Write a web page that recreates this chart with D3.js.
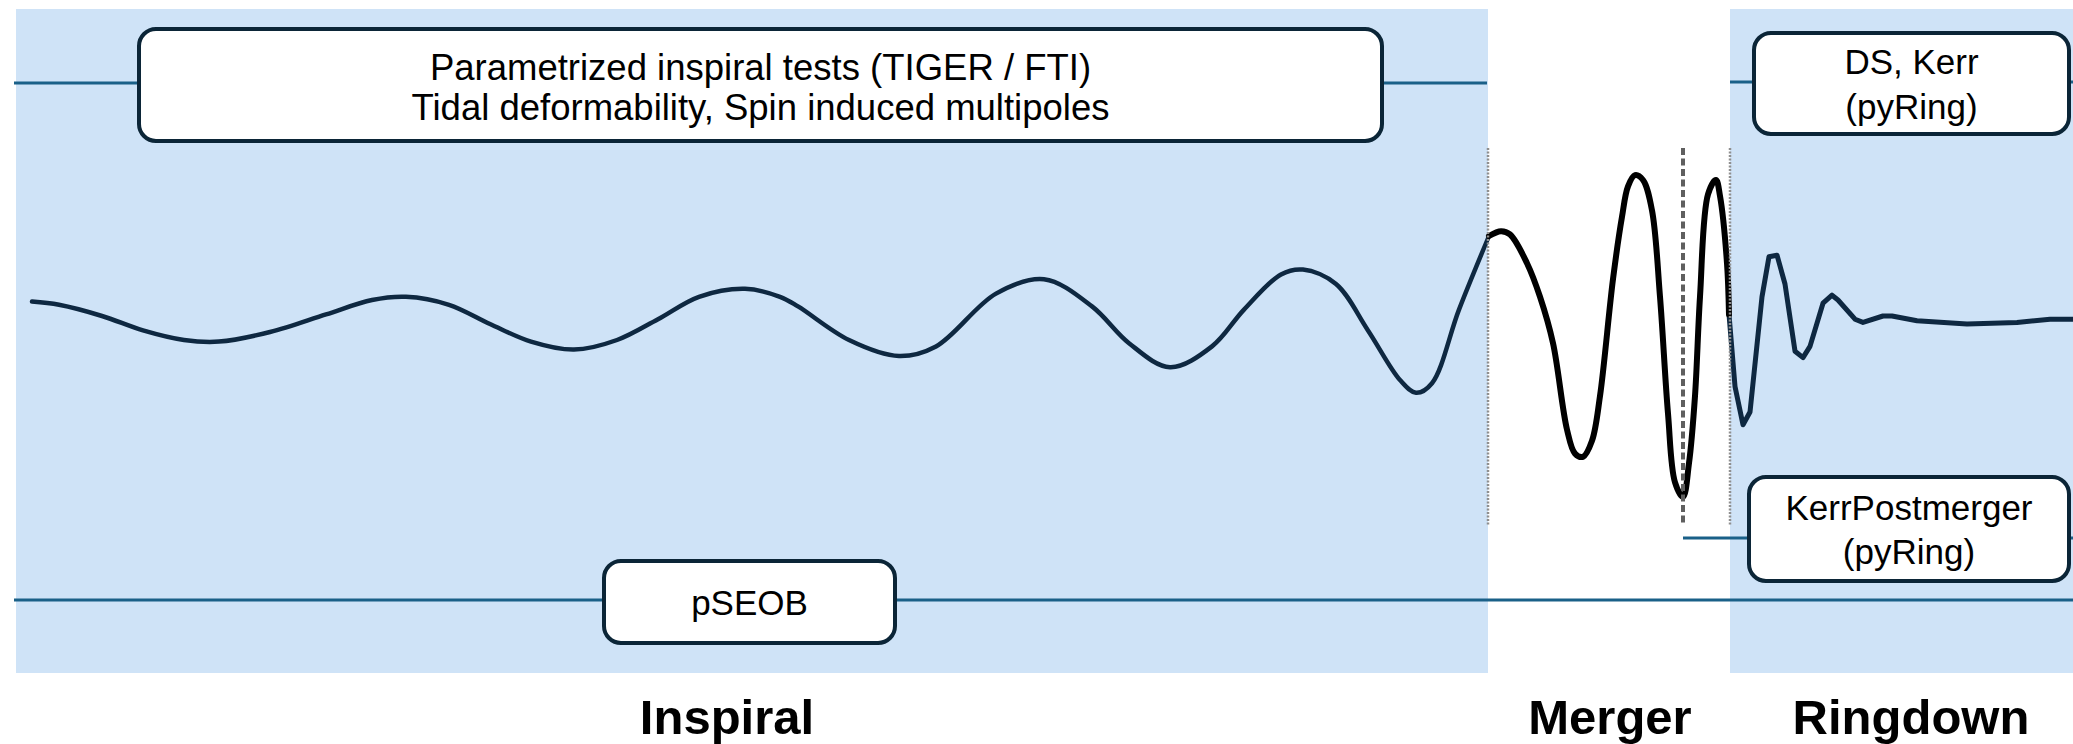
<!DOCTYPE html>
<html>
<head>
<meta charset="utf-8">
<script src="https://cdn.jsdelivr.net/npm/d3@7"></script>
<style>
	body { margin: 0; background: #fff; }
	svg { display: block; }
</style>
</head>
<body>
<svg></svg>
<script>
const width = 2073
const height = 744

// time relative to the merger peak, strain in arbitrary units
const inspiralT = [-165.1, -162.4, -158.1, -154.0, -149.9, -146.4, -141.3, -135.7, -131.1, -127.7, -123.4, -119.3, -115.2, -110.9, -106.6, -102.5, -98.4, -93.8, -90.3, -88.5, -83.4, -78.4, -74.7, -68.7, -63.9, -59.1, -55.4, -51.3, -47.1, -43.9, -40.2, -38.0, -34.7, -31.5, -28.3, -26.7, -25.1, -22.4, -19.4]
const inspiralH = [0.24, 0.22, 0.15, 0.06, 0.00, -0.01, 0.05, 0.16, 0.25, 0.27, 0.22, 0.10, -0.01, -0.06, 0.00, 0.13, 0.27, 0.32, 0.27, 0.21, 0.00, -0.10, -0.04, 0.29, 0.38, 0.21, -0.02, -0.17, -0.04, 0.19, 0.41, 0.44, 0.35, 0.06, -0.25, -0.33, -0.27, 0.19, 0.65]

const mergerT = [-19.4, -18.2, -17.3, -15.6, -14.3, -13.0, -11.6, -10.8, -10.0, -9.1, -8.3, -7.0, -6.1, -5.5, -4.8, -4.0, -3.1, -2.3, -1.5, -0.8, 0.0, 0.6, 1.2, 1.7, 2.5, 3.3, 3.7, 4.4, 4.6]
const mergerH = [0.65, 0.68, 0.66, 0.48, 0.27, -0.02, -0.56, -0.71, -0.73, -0.63, -0.35, 0.38, 0.77, 0.96, 1.03, 1.00, 0.81, 0.27, -0.46, -0.89, -0.98, -0.77, -0.35, 0.27, 0.91, 1.00, 0.90, 0.48, 0.16]

const ringdownT = [4.6, 5.2, 6.0, 6.7, 7.9, 8.6, 9.4, 10.2, 11.2, 12.0, 12.7, 14.0, 14.9, 15.5, 17.2, 18.0, 20.0, 20.9, 23.4, 28.4, 33.4, 36.7, 39.0]
const ringdownH = [0.16, -0.29, -0.53, -0.45, 0.27, 0.52, 0.53, 0.35, -0.07, -0.11, -0.04, 0.23, 0.28, 0.25, 0.13, 0.11, 0.15, 0.15, 0.12, 0.10, 0.11, 0.13, 0.13]

// phases of the coalescence
const phaseNames = ['Inspiral', 'Merger', 'Ringdown']
const phaseStart = [-166.7, -19.5, 4.7]
const phaseEnd = [-19.5, 4.7, 39]
const phaseLabelT = [-95.6, -7.3, 22.8]
const phaseShaded = [true, false, true]

// tests and the span of the signal they use
const testLabels = [
	['Parametrized inspiral tests (TIGER / FTI)', 'Tidal deformability, Spin induced multipoles'],
	['DS, Kerr', '(pyRing)'],
	['KerrPostmerger', '(pyRing)'],
	['pSEOB']
]
const testFrom = [-166.9, 4.7, 0, -166.9]
const testTo = [-19.6, 39, 39, 39]

const peakT = 0

// layout of the test boxes (time units for x, pixels for y)
const boxLayout = [
	{ t0: -154.4, t1: -30.1, y: 29, h: 112, line: 83, gap: 40, dy: 2, size: 36.5 },
	{ t0: 7.1, t1: 38.6, y: 33, h: 101, line: 82, gap: 45, dy: 0, size: 35 },
	{ t0: 6.6, t1: 38.6, y: 477, h: 104, line: 538, gap: 44, dy: 0, size: 35 },
	{ t0: -107.9, t1: -78.8, y: 561, h: 82, line: 600, gap: 0, dy: 0, size: 35 }
]

const font = '"Liberation Sans", Arial, sans-serif'

const x = d3.scaleLinear().domain([-168.3, 39]).range([0, width])
const y = d3.scaleLinear().domain([-1, 1]).range([500, 180])

const svg = d3.select('svg')
	.attr('width', width)
	.attr('height', height)

// shaded phases
svg.append('g')
	.selectAll('rect')
	.data(d3.range(phaseNames.length).filter(i => phaseShaded[i]))
	.enter()
	.append('rect')
	.attr('x', i => x(phaseStart[i]))
	.attr('width', i => x(phaseEnd[i]) - x(phaseStart[i]))
	.attr('y', 9)
	.attr('height', 664)
	.attr('fill', '#cfe3f7')

// phase names
svg.append('g')
	.selectAll('text')
	.data(phaseNames)
	.enter()
	.append('text')
	.attr('x', (d, i) => x(phaseLabelT[i]))
	.attr('y', 734)
	.attr('text-anchor', 'middle')
	.attr('font-family', font)
	.attr('font-weight', 'bold')
	.attr('font-size', 49)
	.attr('fill', '#000')
	.text(d => d)

// connector lines of the tests
svg.append('g')
	.selectAll('line')
	.data(testLabels)
	.enter()
	.append('line')
	.attr('x1', (d, i) => x(testFrom[i]))
	.attr('x2', (d, i) => x(testTo[i]))
	.attr('y1', (d, i) => boxLayout[i].line)
	.attr('y2', (d, i) => boxLayout[i].line)
	.attr('stroke', '#1a6088')
	.attr('stroke-width', 3.2)

// test boxes
const boxes = svg.append('g')
	.selectAll('g')
	.data(testLabels)
	.enter()
	.append('g')

boxes.append('rect')
	.attr('x', (d, i) => x(boxLayout[i].t0))
	.attr('width', (d, i) => x(boxLayout[i].t1) - x(boxLayout[i].t0))
	.attr('y', (d, i) => boxLayout[i].y)
	.attr('height', (d, i) => boxLayout[i].h)
	.attr('rx', 17)
	.attr('fill', '#fff')
	.attr('stroke', '#0b2537')
	.attr('stroke-width', 4)

boxes.each(function (lines, i) {
	const b = boxLayout[i]
	const cx = (x(b.t0) + x(b.t1)) / 2
	const cy = b.y + b.h / 2 + b.dy
	d3.select(this).selectAll('text')
		.data(lines)
		.enter()
		.append('text')
		.attr('x', cx)
		.attr('y', (d, j) => cy + 12.5 + (j - (lines.length - 1) / 2) * b.gap)
		.attr('text-anchor', 'middle')
		.attr('font-family', font)
		.attr('font-size', b.size)
		.attr('fill', '#000')
		.text(d => d)
})

// waveform
const zip = (ts, hs) => ts.map((t, i) => [t, hs[i]])

const smooth = d3.line()
	.x(d => x(d[0]))
	.y(d => y(d[1]))
	.curve(d3.curveCatmullRom.alpha(0.5))

const straight = d3.line()
	.x(d => x(d[0]))
	.y(d => y(d[1]))

const wave = svg.append('g')
	.attr('fill', 'none')
	.attr('stroke-linejoin', 'round')
	.attr('stroke-linecap', 'round')

wave.append('path')
	.attr('d', smooth(zip(inspiralT, inspiralH)))
	.attr('stroke', '#0e2841')
	.attr('stroke-width', 4.5)

wave.append('path')
	.attr('d', straight(zip(ringdownT, ringdownH)))
	.attr('stroke', '#0e2841')
	.attr('stroke-width', 5)

wave.append('path')
	.attr('d', smooth(zip(mergerT, mergerH)))
	.attr('stroke', '#000')
	.attr('stroke-width', 6)

// phase boundaries
svg.append('g')
	.selectAll('line')
	.data([phaseEnd[0], phaseStart[2]])
	.enter()
	.append('line')
	.attr('x1', d => x(d))
	.attr('x2', d => x(d))
	.attr('y1', 148)
	.attr('y2', 526)
	.attr('stroke', '#8f8f8f')
	.attr('stroke-width', 2.5)
	.attr('stroke-dasharray', '2,1.5')

// merger peak
svg.append('line')
	.attr('x1', x(peakT))
	.attr('x2', x(peakT))
	.attr('y1', 148)
	.attr('y2', 526)
	.attr('stroke', '#5f5f5f')
	.attr('stroke-width', 4)
	.attr('stroke-dasharray', '7,3.5')
</script>
</body>
</html>
